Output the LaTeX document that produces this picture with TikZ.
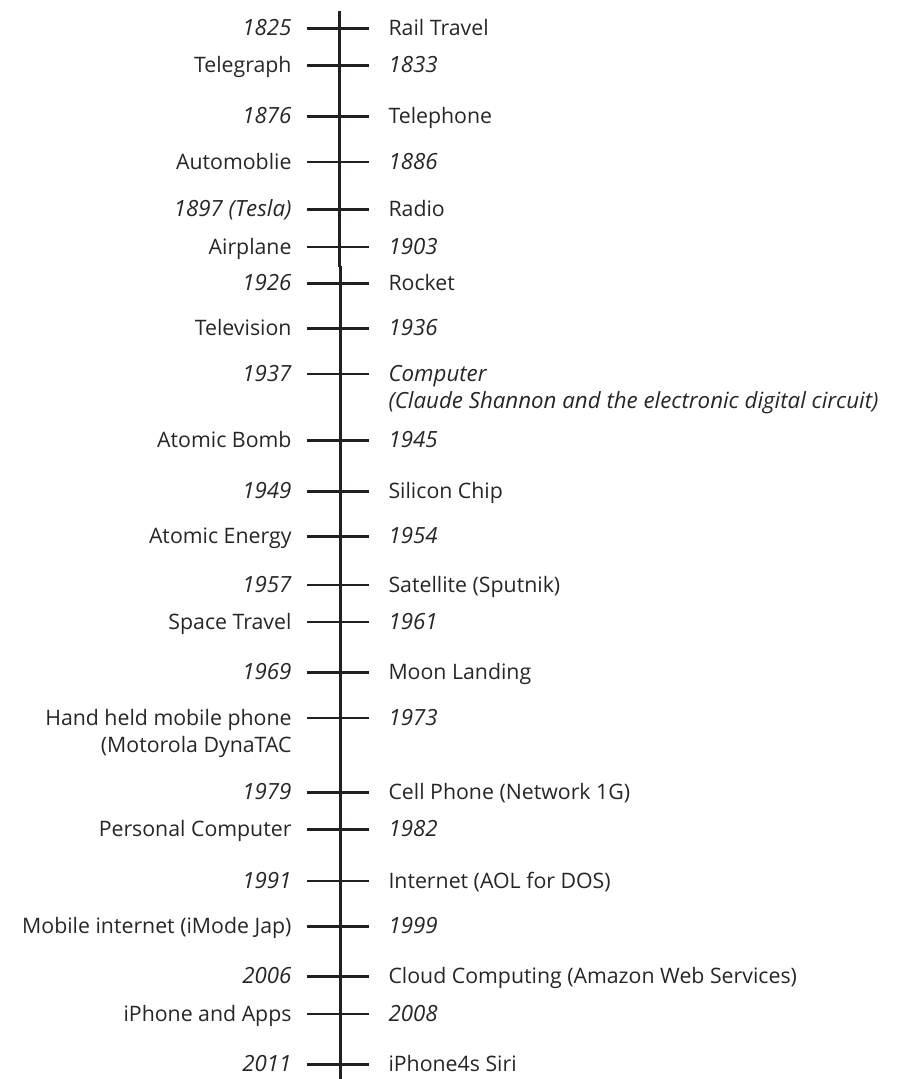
\documentclass[tikz,border=0pt]{standalone}
\usepackage{fontspec}
\setmainfont{Open Sans}
\definecolor{ink}{HTML}{231F20}
\definecolor{txt}{HTML}{262626}
\begin{document}
\begin{tikzpicture}[x=1pt,y=-1pt,
  tickline/.style={draw=ink,line width=2.5pt},
  axis/.style={draw=ink,line width=2.4pt},
  lbl/.style={inner sep=0pt,outer sep=0pt,text=txt,font=\fontsize{21.3}{27.5}\selectfont},
  leftlbl/.style={lbl,anchor=base east,align=right},
  rightlbl/.style={lbl,anchor=base west,align=left},
  yr/.style={font=\fontsize{22.3}{27.5}\selectfont\itshape}]
\useasboundingbox (0,0) rectangle (899,1079);
% main axis (two slightly offset segments)
\coordinate (ax1) at (339.3,10.7);
\coordinate (ax2) at (339.3,266.7);
\coordinate (ax3) at (340.3,265.7);
\coordinate (ax4) at (340.3,1079);
\draw[axis] (ax1) -- (ax2);
\draw[axis] (ax3) -- (ax4);
\foreach \i/\y/\L/\Ls/\Lo/\R/\Rs/\Ro in {
  1/28.7/{1825}/yr/0/{Rail Travel}/lbl/0,
  2/65.7/{Telegraph}/lbl/0/{1833}/yr/0,
  3/116.3/{1876}/yr/0/{Telephone}/lbl/0,
  4/162/{Automoblie}/lbl/0/{1886}/yr/0,
  5/209.7/{1897 (Tesla)}/yr/0/{Radio}/lbl/0,
  6/247/{Airplane}/lbl/0/{1903}/yr/0,
  7/283.7/{1926}/yr/0/{Rocket}/lbl/0,
  8/328.3/{Television}/lbl/0/{1936}/yr/0,
  9/374/{1937}/yr/0/{Computer\\(Claude Shannon and the electronic digital circuit)}/yr/27.5,
  10/440.7/{Atomic Bomb}/lbl/0/{1945}/yr/0,
  11/491.7/{1949}/yr/0/{Silicon Chip}/lbl/0,
  12/536.7/{Atomic Energy}/lbl/0/{1954}/yr/0,
  13/585/{1957}/yr/0/{Satellite (Sputnik)}/lbl/0,
  14/622/{Space Travel}/lbl/0/{1961}/yr/0,
  15/672.3/{1969}/yr/0/{Moon Landing}/lbl/0,
  16/718/{Hand held mobile phone\\(Motorola DynaTAC}/lbl/27.5/{1973}/yr/0,
  17/792.3/{1979}/yr/0/{Cell Phone (Network 1G)}/lbl/0,
  18/829.7/{Personal Computer}/lbl/0/{1982}/yr/0,
  19/881/{1991}/yr/0/{Internet (AOL for DOS)}/lbl/0,
  20/926.7/{Mobile internet (iMode Jap)}/lbl/0/{1999}/yr/0,
  21/976.7/{2006}/yr/0/{Cloud Computing (Amazon Web Services)}/lbl/0,
  22/1014/{iPhone and Apps}/lbl/0/{2008}/yr/0,
  23/1064.3/{2011}/yr/0/{iPhone4s Siri}/lbl/0}
{
  \coordinate (ta\i) at (306.7,\y);
  \coordinate (tb\i) at (369.3,\y);
  \draw[tickline] (ta\i) -- (tb\i);
  \node[leftlbl,\Ls] (l\i) at (291.5,\y+7+\Lo) {\L};
  \node[rightlbl,\Rs] (r\i) at (388.5,\y+7+\Ro) {\R};
}
\end{tikzpicture}
\end{document}
